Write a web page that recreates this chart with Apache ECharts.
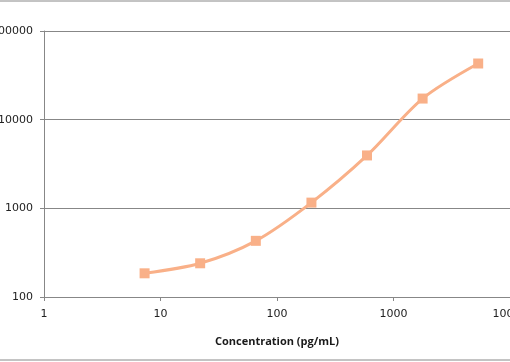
<!DOCTYPE html>
<html><head><meta charset="utf-8">
<script src="https://cdn.jsdelivr.net/npm/echarts@6/dist/echarts.min.js"></script>
<style>html,body{margin:0;padding:0;background:#fff}#c{width:510px;height:362px}</style>
</head><body><div id="c"></div>
<script>
const concentrations = [7.3, 21.9, 65.8, 197.5, 592.6, 1777.8, 5333.3];
const signals = [185, 240, 430, 1160, 3950, 17300, 43000];
const xTitle = 'Concentration (pg/mL)';
const lineColor = '#F9B088';
const gridColor = '#878787';

const chart = echarts.init(document.getElementById('c'), null, {renderer: 'canvas'});
const labelFont = {fontFamily: '"DejaVu Sans", Verdana, sans-serif', fontSize: 11, color: '#222', formatter: v => String(Math.round(v))};
chart.setOption({
  animation: false,
  grid: {left: 44, right: 0, top: 31, bottom: 65, containLabel: false, outerBoundsMode: 'none'},
  graphic: [{type: 'rect', shape: {x: -5, y: 1, width: 520, height: 359}, style: {fill: 'none', stroke: '#888', lineWidth: 1}, silent: true}],
  xAxis: {
    type: 'log', logBase: 10, min: 1, max: 10000,
    name: xTitle, nameLocation: 'middle', nameGap: 39,
    nameTextStyle: {fontFamily: 'Open Sans', fontWeight: 'bold', fontSize: 11, color: '#1a1a1a'},
    axisLine: {lineStyle: {color: gridColor, width: 1}},
    axisTick: {show: true, length: 4, inside: false, lineStyle: {color: gridColor}},
    axisLabel: Object.assign({margin: 12, hideOverlap: false}, labelFont),
    splitLine: {show: false}, minorTick: {show: false}
  },
  yAxis: {
    type: 'log', logBase: 10, min: 100, max: 100000,
    axisLine: {show: true, lineStyle: {color: gridColor, width: 1}},
    axisTick: {show: true, length: 4, inside: false, lineStyle: {color: gridColor}},
    axisLabel: Object.assign({margin: 11, hideOverlap: false}, labelFont),
    splitLine: {show: true, lineStyle: {color: gridColor, width: 1}}
  },
  series: [{
    type: 'line',
    data: concentrations.map((x, i) => [x, signals[i]]),
    smooth: 0.3,
    symbol: 'rect', symbolSize: 10,
    lineStyle: {color: lineColor, width: 3},
    itemStyle: {color: lineColor},
    clip: false
  }]
});
</script></body></html>
